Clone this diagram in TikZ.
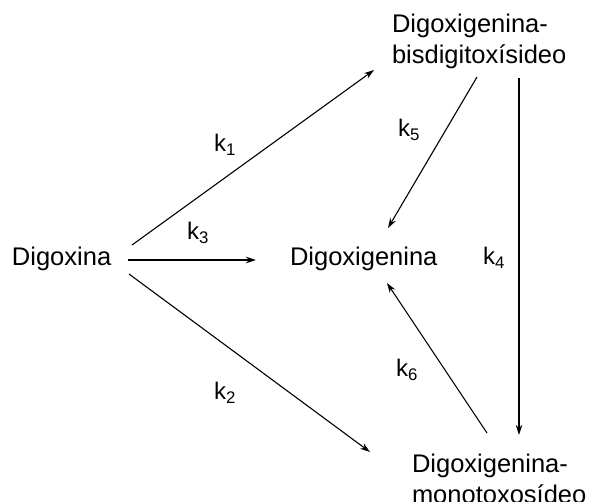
\documentclass[tikz,border=0pt]{standalone}
\usepackage{fontspec}
\setmainfont{Liberation Sans}
\usetikzlibrary{arrows.meta}
\begin{document}
\begin{tikzpicture}[x=1pt,y=-1pt,
  species/.style={inner sep=0pt,outer sep=0pt,font=\fontsize{25.5}{31}\selectfont,align=left},
  rate/.style={inner sep=0pt,font=\fontsize{24}{28}\selectfont},
  conv/.style={line width=1.1pt,-{Stealth[length=10pt,width=6.5pt]}}]
\useasboundingbox (0,0) rectangle (592,501);
\node[species,anchor=base west] (dig) at (12,265) {Digoxina};
\node[species,anchor=base west] (dgn) at (290,265) {Digoxigenina};
\node[species,anchor=north west] (bis) at (392,13.7) {Digoxigenina-\\bisdigitoxísideo};
\node[species,anchor=north west] (mono) at (412,453.7) {Digoxigenina-\\monotoxosídeo};
% connectors
\draw[conv] ([shift={(120,-20)}]dig.base west) -- ([shift={(-18,56.3)}]bis.north west);
\draw[conv] ([shift={(116,-5)}]dig.base west) -- ([shift={(-34,-5)}]dgn.base west);
\draw[conv] ([shift={(117,9)}]dig.base west) -- ([shift={(-42,-1.7)}]mono.north west);
\draw[conv] ([shift={(85,63.3)}]bis.north west) -- ([shift={(98,-37)}]dgn.base west);
\draw[conv] ([shift={(127,64.3)}]bis.north west) -- ([shift={(107,-18.7)}]mono.north west);
\draw[conv] ([shift={(75,-20.7)}]mono.north west) -- ([shift={(97,18)}]dgn.base west);
% rate constants
\node[rate] (k1) at (225,145) {k\textsubscript{1}};
\node[rate] (k3) at (198,233) {k\textsubscript{3}};
\node[rate] (k2) at (225,393) {k\textsubscript{2}};
\node[rate] (k5) at (409,130) {k\textsubscript{5}};
\node[rate] (k4) at (494,258) {k\textsubscript{4}};
\node[rate] (k6) at (407,370) {k\textsubscript{6}};
\end{tikzpicture}
\end{document}
